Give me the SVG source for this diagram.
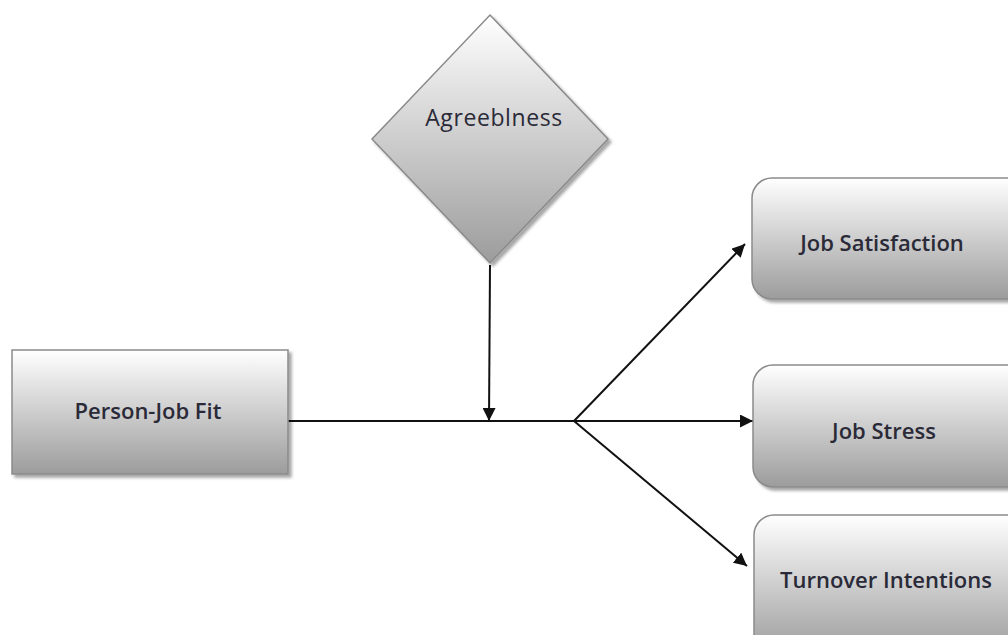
<svg xmlns="http://www.w3.org/2000/svg" width="1008" height="635" viewBox="0 0 1008 635">
<style>
.node{fill:url(#g);stroke:#8a8a8a;stroke-width:1.5;filter:url(#sh)}
.lbl{font-family:"Open Sans","Liberation Sans",sans-serif;font-size:22px;font-weight:600;fill:#2a2a38;text-anchor:middle}
.reg{font-weight:400;font-size:23px;letter-spacing:0.6px}
.con{stroke:#111;stroke-width:2;fill:none;marker-end:url(#ah)}
</style>
<defs>
<linearGradient id="g" x1="0" y1="0" x2="0" y2="1">
<stop offset="0" stop-color="#ffffff"/>
<stop offset="1" stop-color="#9c9c9c"/>
</linearGradient>
<filter id="sh" x="-10%" y="-10%" width="130%" height="130%">
<feDropShadow dx="3" dy="3" stdDeviation="1.5" flood-color="#000" flood-opacity="0.35"/>
</filter>
<marker id="ah" viewBox="0 0 10 10" refX="10" refY="5" markerWidth="6.5" markerHeight="6.5" orient="auto" markerUnits="strokeWidth">
<path d="M0,0 L10,5 L0,10 z" fill="#111"/>
</marker>
</defs>
<rect width="1008" height="635" fill="#fff"/>
<g id="connectors">
<line x1="490" y1="265" x2="489" y2="421" class="con"/>
<polyline points="288,421 574,421 753,421" class="con"/>
<line x1="574" y1="421" x2="745" y2="244" class="con"/>
<line x1="574" y1="421" x2="747" y2="566" class="con"/>
</g>
<g id="agreeblness">
<polygon points="490,15 608,139 490,263 372,139" class="node"/>
<text x="494" y="126" class="lbl reg">Agreeblness</text>
</g>
<g id="person-job-fit">
<rect x="12" y="350" width="276" height="124" class="node"/>
<text x="148" y="419" class="lbl">Person-Job Fit</text>
</g>
<g id="job-satisfaction">
<rect x="752" y="178" width="280" height="121" rx="20" class="node"/>
<text x="882" y="251" class="lbl">Job Satisfaction</text>
</g>
<g id="job-stress">
<rect x="753" y="365" width="280" height="122" rx="20" class="node"/>
<text x="884" y="439" class="lbl">Job Stress</text>
</g>
<g id="turnover-intentions">
<rect x="754" y="515" width="280" height="140" rx="20" class="node"/>
<text x="886" y="588" class="lbl">Turnover Intentions</text>
</g>
</svg>
